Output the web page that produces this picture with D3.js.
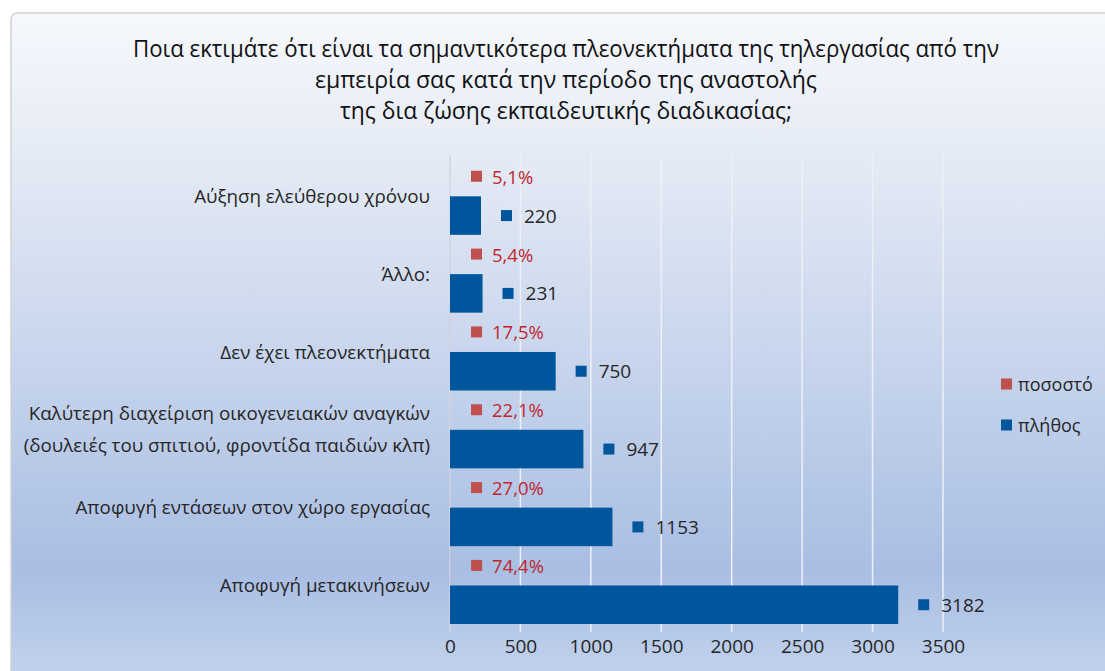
<!DOCTYPE html>
<html lang="el">
<head>
  <meta charset="UTF-8">
  <title>Πλεονεκτήματα τηλεργασίας</title>
  <style>
    body, html { margin: 0; padding: 0; background: #fff; }
    #svg { display: block; }
  </style>
</head>
<body>
  <svg id="svg" width="1105" height="671"></svg>
  <script src="https://d3js.org/d3.v7.min.js"></script>
  <script>
    // data (top to bottom)
    const categories = [
      ["Αύξηση ελεύθερου χρόνου"],
      ["Άλλο:"],
      ["Δεν έχει πλεονεκτήματα"],
      ["Καλύτερη διαχείριση οικογενειακών αναγκών", "(δουλειές του σπιτιού, φροντίδα παιδιών κλπ)"],
      ["Αποφυγή εντάσεων στον χώρο εργασίας"],
      ["Αποφυγή μετακινήσεων"]
    ]
    const counts = [220, 231, 750, 947, 1153, 3182]
    const shares = [0.051, 0.054, 0.175, 0.221, 0.270, 0.744]
    const xTicks = [0, 500, 1000, 1500, 2000, 2500, 3000, 3500]
    const seriesNames = ["ποσοστό", "πλήθος"]
    const titleLines = [
      "Ποια εκτιμάτε ότι είναι τα σημαντικότερα πλεονεκτήματα της τηλεργασίας από την",
      "εμπειρία σας κατά την περίοδο της αναστολής",
      "της δια ζώσης εκπαιδευτικής διαδικασίας;"
    ]

    const font = "'Open Sans', 'Noto Sans', sans-serif"
    const red = "#c0504d"
    const redText = "#c0272d"
    const blue = "#00569c"
    const textColor = "#262626"

    const svg = d3.select("#svg")

    // background frame with gradient
    const grad = svg.append("defs").append("linearGradient")
      .attr("id", "bg").attr("x1", 0).attr("y1", 0).attr("x2", 0).attr("y2", 1)
    grad.append("stop").attr("offset", "0%").attr("stop-color", "#f6f8fc")
    grad.append("stop").attr("offset", "22%").attr("stop-color", "#e4eaf5")
    grad.append("stop").attr("offset", "82%").attr("stop-color", "#a9bee3")
    grad.append("stop").attr("offset", "100%").attr("stop-color", "#c6d5ef")

    svg.append("rect")
      .attr("x", 11).attr("y", 13).attr("width", 1110).attr("height", 680)
      .attr("rx", 6)
      .attr("fill", "url(#bg)")
      .attr("stroke", "#d2d2d2").attr("stroke-width", 1.5)

    // title (condensed look)
    const titleWidths = [866, 502, 452]
    svg.append("g").selectAll("text")
      .data(titleLines)
      .enter()
      .append("text")
      .attr("x", 566)
      .attr("y", (d, i) => 57 + i * 31)
      .attr("text-anchor", "middle")
      .attr("textLength", (d, i) => titleWidths[i])
      .attr("lengthAdjust", "spacingAndGlyphs")
      .attr("font-family", font)
      .attr("font-size", 24)
      .attr("fill", "#111")
      .text(d => d)

    // scales
    const x = d3.scaleLinear().domain([0, 3500]).range([450, 943])
    const y = d3.scaleBand().domain(d3.range(categories.length)).range([157, 624]).paddingInner(0)
    const ySub = d3.scaleBand().domain([0, 1]).range([0, y.bandwidth()]).paddingInner(0.02)

    // gridlines
    svg.append("g").selectAll("line")
      .data(xTicks)
      .enter()
      .append("line")
      .attr("x1", d => x(d)).attr("x2", d => x(d))
      .attr("y1", 155).attr("y2", 632)
      .attr("stroke", d => d === 0 ? "#cfd6e2" : "#edf0f6")
      .attr("stroke-width", 1.5)

    // axis (labels only)
    const axis = svg.append("g")
      .attr("transform", "translate(0,633)")
      .call(d3.axisBottom(x).tickValues(xTicks).tickSize(0).tickPadding(7).tickFormat(d3.format("d")))
    axis.select(".domain").remove()
    axis.selectAll("text")
      .attr("font-family", font).attr("font-size", 19).attr("fill", textColor)

    // category labels
    const catG = svg.append("g").selectAll("text")
      .data(categories)
      .enter()
      .append("text")
      .attr("x", 430)
      .attr("y", (d, i) => y(i) + y.bandwidth() / 2 - (d.length - 1) * 16)
      .attr("text-anchor", "end")
      .attr("dominant-baseline", "central")
      .attr("font-family", font)
      .attr("font-size", 18.8)
      .attr("fill", textColor)
    catG.selectAll("tspan")
      .data(d => d)
      .enter()
      .append("tspan")
      .attr("x", 430)
      .attr("dy", (d, i) => i === 0 ? 0 : 32)
      .text(d => d)

    // bars: share series (top) and count series (bottom)
    const rows = counts.map((c, i) => ({ i, count: c, share: shares[i] }))

    svg.append("g").selectAll("rect")
      .data(rows)
      .enter()
      .append("rect")
      .attr("x", x(0))
      .attr("y", d => y(d.i) + ySub(0))
      .attr("width", d => x(d.share) - x(0))
      .attr("height", ySub.bandwidth())
      .attr("fill", red)

    svg.append("g").selectAll("rect")
      .data(rows)
      .enter()
      .append("rect")
      .attr("x", x(0))
      .attr("y", d => y(d.i) + ySub(1))
      .attr("width", d => x(d.count) - x(0))
      .attr("height", ySub.bandwidth())
      .attr("fill", blue)

    // data labels with legend keys
    const fmtPct = d => d3.format(".1f")(d * 100).replace(".", ",") + "%"

    const shareLab = svg.append("g").selectAll("g")
      .data(rows)
      .enter()
      .append("g")
      .attr("transform", d => `translate(${x(d.share) + 21},${y(d.i) + ySub(0) + ySub.bandwidth() / 2})`)
    shareLab.append("rect")
      .attr("x", 0).attr("y", -5.5).attr("width", 11).attr("height", 11).attr("fill", red)
    shareLab.append("text")
      .attr("x", 21).attr("dominant-baseline", "central")
      .attr("font-family", font).attr("font-size", 18.5).attr("fill", redText)
      .text(d => fmtPct(d.share))

    const countLab = svg.append("g").selectAll("g")
      .data(rows)
      .enter()
      .append("g")
      .attr("transform", d => `translate(${x(d.count) + 20},${y(d.i) + ySub(1) + ySub.bandwidth() / 2})`)
    countLab.append("rect")
      .attr("x", 0).attr("y", -5.5).attr("width", 11).attr("height", 11).attr("fill", blue)
    countLab.append("text")
      .attr("x", 23).attr("dominant-baseline", "central")
      .attr("font-family", font).attr("font-size", 19).attr("fill", textColor)
      .text(d => d.count)

    // legend
    const legend = svg.append("g").selectAll("g")
      .data(seriesNames)
      .enter()
      .append("g")
      .attr("transform", (d, i) => `translate(1001,${384 + i * 41})`)
    legend.append("rect")
      .attr("x", 0).attr("y", -5.5).attr("width", 11).attr("height", 11)
      .attr("fill", (d, i) => i === 0 ? red : blue)
    legend.append("text")
      .attr("x", 17).attr("dominant-baseline", "central")
      .attr("font-family", font).attr("font-size", 18).attr("fill", textColor)
      .text(d => d)
  </script>
</body>
</html>
